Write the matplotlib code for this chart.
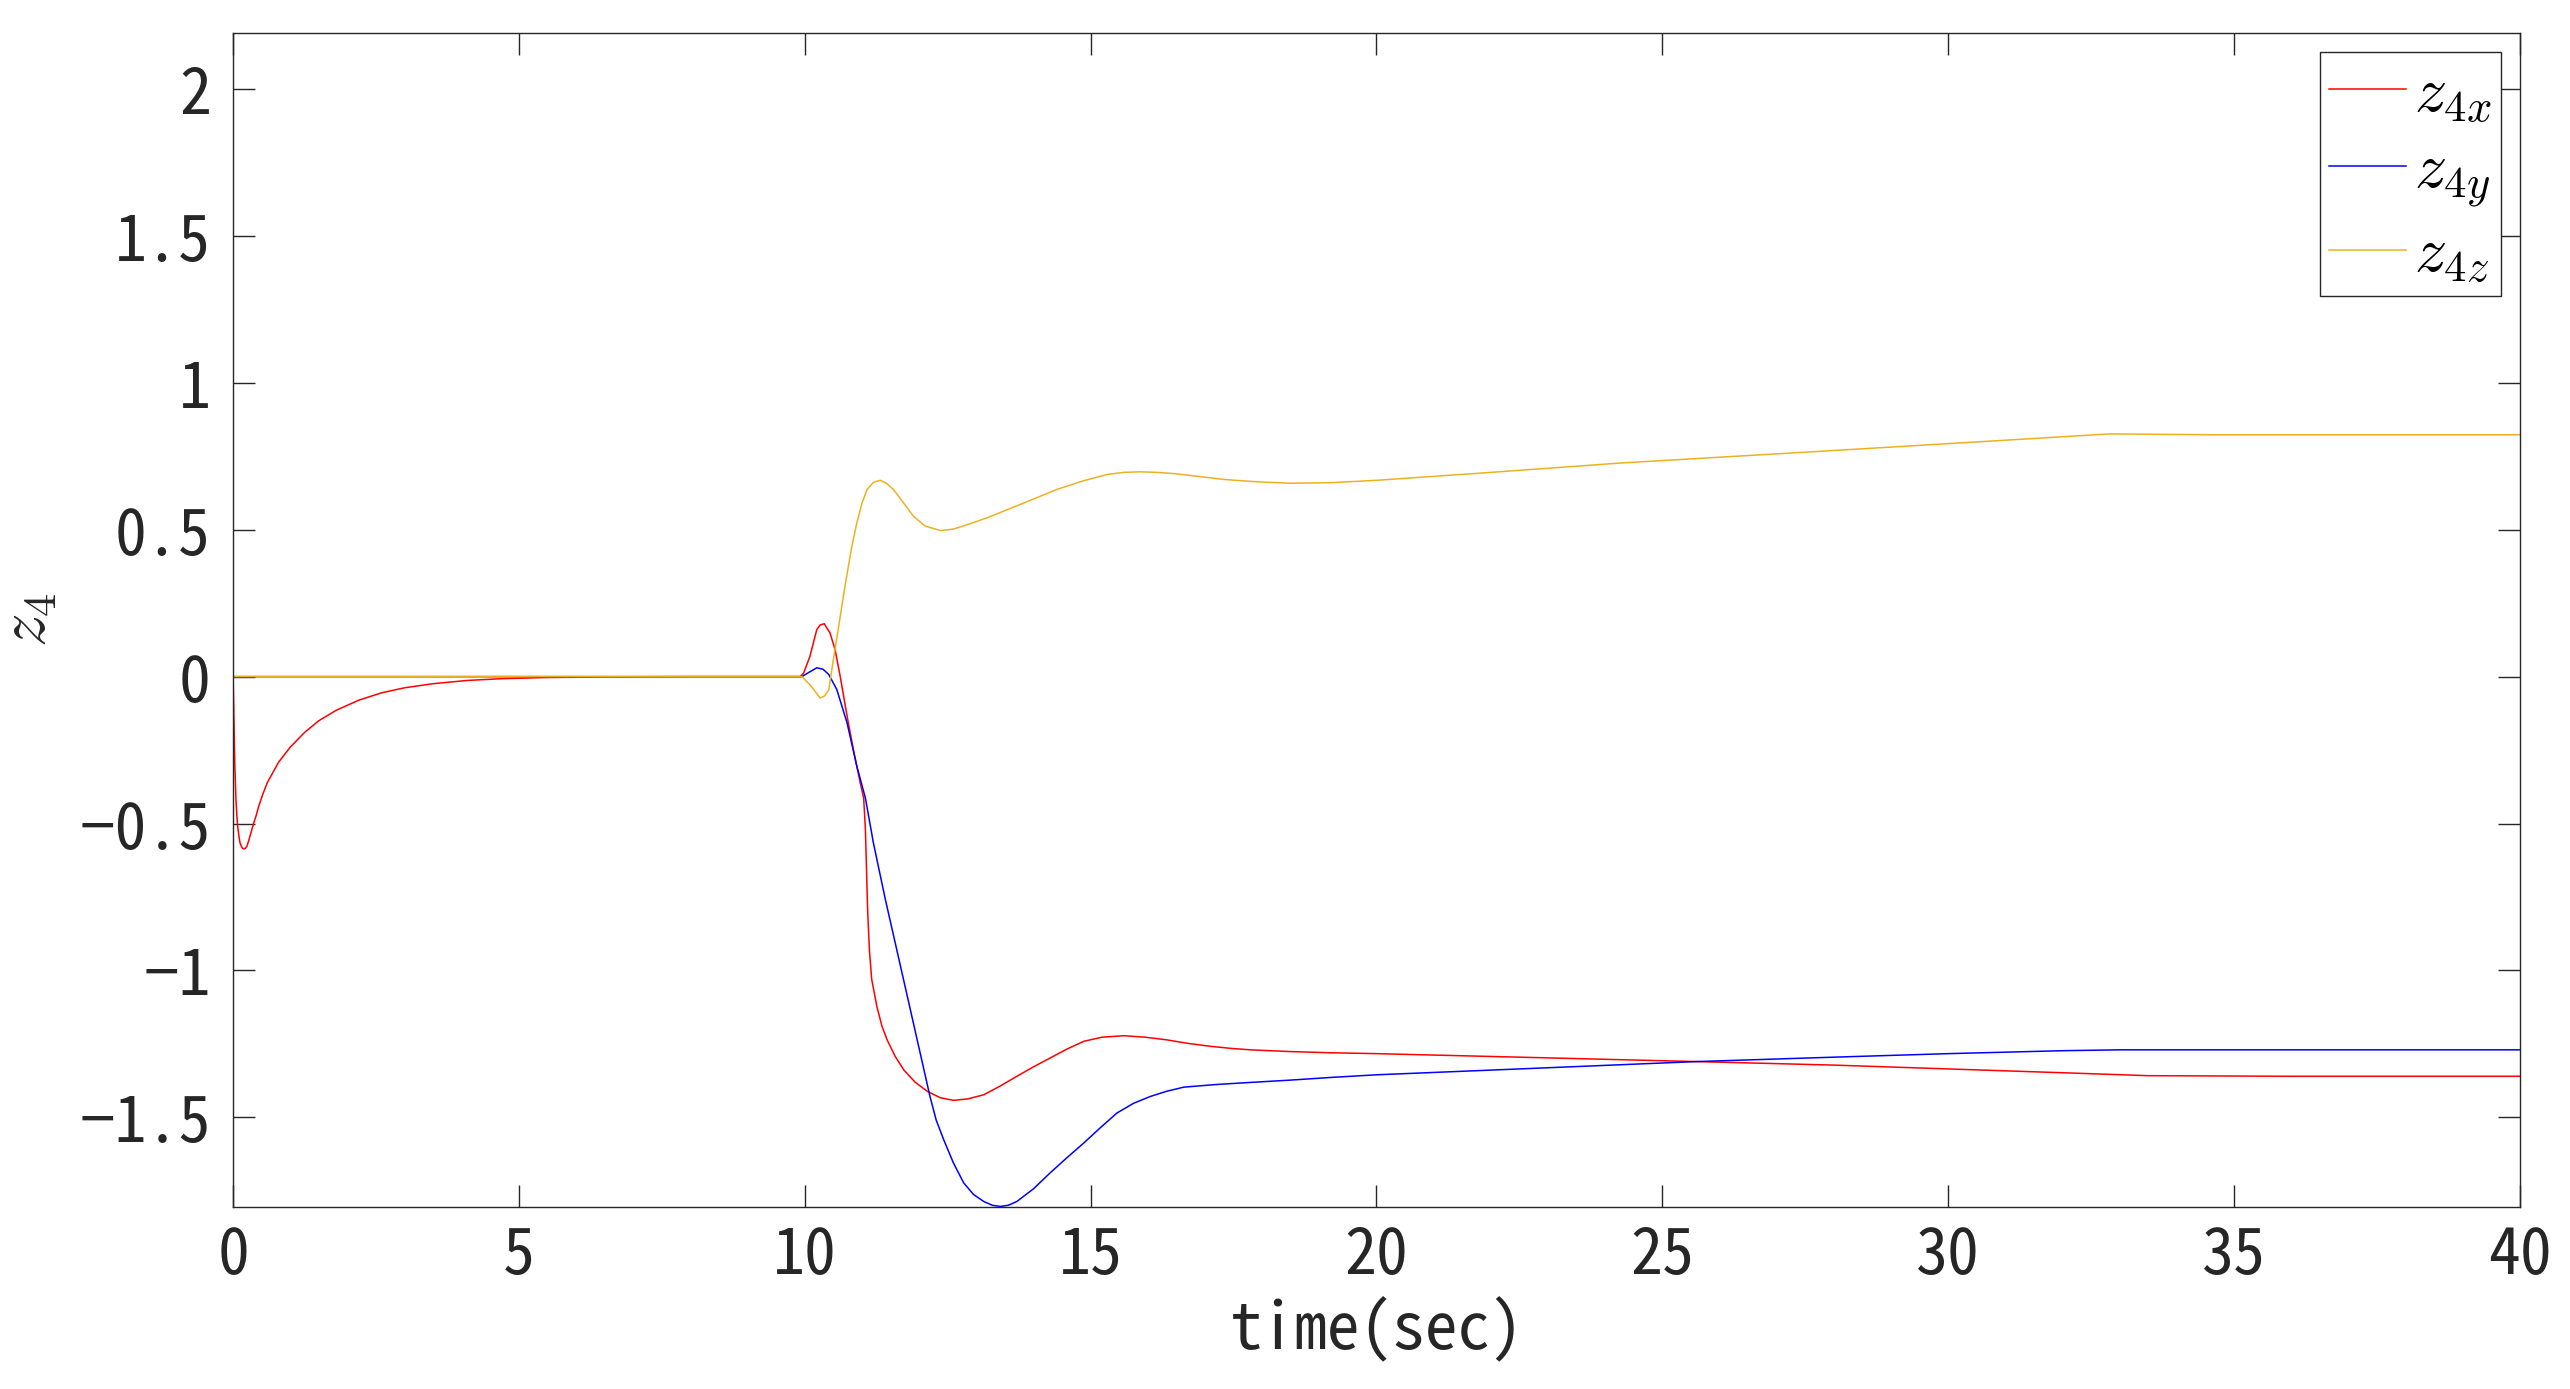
import matplotlib
matplotlib.use('Agg')
import matplotlib.pyplot as plt

# z4 components
t_x = [0, 0.01, 0.03, 0.05, 0.065, 0.08, 0.1, 0.12, 0.14, 0.16, 0.185, 0.21, 0.24, 0.27, 0.3, 0.35, 0.4,
       0.45, 0.52, 0.6, 0.7, 0.8, 0.9, 1.0, 1.25, 1.5, 1.8, 2.2, 2.6, 3.0, 3.5, 4.1, 4.7, 5.5, 6.5, 8.0,
       9.92, 9.98, 10.09, 10.15, 10.21, 10.27, 10.34, 10.44, 10.53, 10.62, 10.74, 10.85, 10.97, 11.03,
       11.06, 11.08, 11.10, 11.13, 11.17, 11.26, 11.35, 11.44, 11.58, 11.73, 11.93, 12.14, 12.37, 12.6,
       12.85, 13.13, 13.42, 13.71, 14.0, 14.29, 14.58, 14.88, 15.2, 15.58, 15.95, 16.33, 16.7, 17.09,
       17.45, 17.79, 18.5, 19.2, 20, 22.5, 25.6, 28, 30, 32, 33.5, 36, 40]
z4x = [0, -0.1, -0.3, -0.42, -0.47, -0.51, -0.54, -0.565, -0.575, -0.583, -0.586, -0.585, -0.578, -0.56,
       -0.54, -0.505, -0.475, -0.44, -0.4, -0.36, -0.325, -0.29, -0.265, -0.24, -0.19, -0.15, -0.115,
       -0.08, -0.055, -0.038, -0.024, -0.013, -0.007, -0.003, -0.001, 0, 0, 0.012, 0.069, 0.115, 0.16,
       0.176, 0.18, 0.149, 0.092, 0.0, -0.135, -0.248, -0.362, -0.413, -0.52, -0.66, -0.8, -0.93, -1.03,
       -1.122, -1.19, -1.236, -1.292, -1.338, -1.38, -1.411, -1.433, -1.442, -1.437, -1.423, -1.393,
       -1.36, -1.328, -1.298, -1.268, -1.241, -1.227, -1.222, -1.227, -1.236, -1.248, -1.258, -1.265,
       -1.27, -1.276, -1.28, -1.283, -1.295, -1.31, -1.322, -1.335, -1.348, -1.358, -1.36, -1.36]

t_y = [0, 9.95, 10.05, 10.21, 10.32, 10.42, 10.56, 10.74, 10.91, 11.06, 11.2, 11.41, 11.67, 11.96, 12.19,
       12.3, 12.43, 12.6, 12.78, 12.95, 13.13, 13.28, 13.42, 13.56, 13.71, 14.0, 14.29, 14.58, 14.88,
       15.17, 15.46, 15.75, 16.04, 16.33, 16.63, 17.2, 17.79, 18.5, 19.2, 20, 22.5, 25.6, 28, 30, 32, 33, 40]
z4y = [0, 0, 0.012, 0.03, 0.025, 0.007, -0.044, -0.158, -0.305, -0.413, -0.566, -0.759, -0.982, -1.231,
       -1.429, -1.51, -1.576, -1.655, -1.723, -1.762, -1.786, -1.799, -1.803, -1.799, -1.786, -1.743,
       -1.689, -1.638, -1.587, -1.535, -1.485, -1.452, -1.429, -1.411, -1.397, -1.388, -1.381, -1.373,
       -1.364, -1.355, -1.335, -1.31, -1.295, -1.283, -1.273, -1.27, -1.27]

t_z = [0, 9.95, 10.1, 10.27, 10.35, 10.42, 10.5, 10.62, 10.68, 10.74, 10.82, 10.91, 11.0, 11.09, 11.2,
       11.32, 11.43, 11.55, 11.72, 11.9, 12.1, 12.37, 12.6, 12.84, 13.2, 13.54, 14.0, 14.41, 14.85, 15.29,
       15.58, 15.87, 16.16, 16.45, 16.9, 17.33, 17.9, 18.5, 19.2, 20, 22, 24.28, 27.96, 31.64, 32.82,
       34.59, 40]
z4z = [0, 0, -0.03, -0.073, -0.065, -0.044, 0.058, 0.205, 0.28, 0.35, 0.44, 0.523, 0.59, 0.637, 0.661,
       0.668, 0.658, 0.637, 0.593, 0.546, 0.513, 0.497, 0.502, 0.517, 0.541, 0.568, 0.604, 0.637, 0.665,
       0.688, 0.695, 0.697, 0.695, 0.691, 0.681, 0.671, 0.663, 0.658, 0.66, 0.668, 0.695, 0.727, 0.769,
       0.812, 0.826, 0.823, 0.823]

xticks = [0, 5, 10, 15, 20, 25, 30, 35, 40]
yticks = [-1.5, -1, -0.5, 0, 0.5, 1, 1.5, 2]
ytick_labels = ['\u22121.5', '\u22121', '\u22120.5', '0', '0.5', '1', '1.5', '2']

plt.rcParams['font.family'] = ['Noto Sans Mono CJK JP', 'Noto Sans CJK JP', 'DejaVu Sans']
plt.rcParams['mathtext.fontset'] = 'cm'

axc = '#262626'
fig = plt.figure(figsize=(25.7, 13.89), dpi=100)
ax = fig.add_axes([0.0907, 0.131, 0.8898, 0.8452])

ax.plot(t_x, z4x, color='#ff0000', lw=1.1, label=r'$z_{4x}$')
ax.plot(t_y, z4y, color='#0000ff', lw=1.1, label=r'$z_{4y}$')
ax.plot(t_z, z4z, color='#edb120', lw=1.1, label=r'$z_{4z}$')

ax.set_xlim(0, 40)
ax.set_ylim(-1.805, 2.19)
ax.set_xticks(xticks)
ax.set_xticklabels([str(v) for v in xticks])
ax.set_yticks(yticks)
ax.set_yticklabels(ytick_labels)
ax.tick_params(direction='in', length=16, width=1, colors=axc, labelsize=46,
               top=True, right=True)
ax.tick_params(axis='y', pad=16)
ax.tick_params(axis='x', pad=12)
for s in ax.spines.values():
    s.set_color(axc)
    s.set_linewidth(1)

ax.set_xlabel('time(sec)', fontsize=47, color=axc, labelpad=7)
ax.set_ylabel(r'$z_4$', fontsize=48, color=axc, labelpad=14)

leg = ax.legend(loc='upper right', fontsize=46, fancybox=False, framealpha=1,
                edgecolor=axc, handlelength=1.2, handletextpad=0.12, borderpad=0.15,
                labelspacing=0.19, borderaxespad=0.3)
leg.get_frame().set_linewidth(1)

fig.savefig('out.png', dpi=100)
